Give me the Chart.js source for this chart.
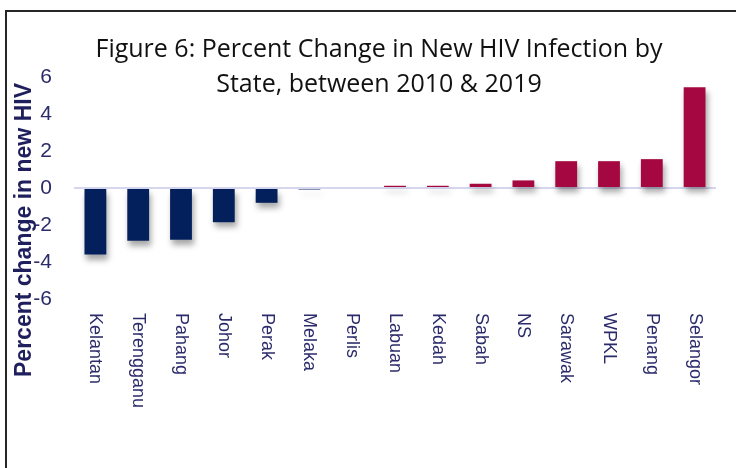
<!DOCTYPE html>
<html>
<head>
<meta charset="utf-8">
<script src="https://cdn.jsdelivr.net/npm/chart.js@4"></script>
<style>
  html, body { margin: 0; padding: 0; background: #fff; }
  #wrap { position: relative; width: 736px; height: 468px; overflow: hidden; }
  #frame { position: absolute; left: 5px; top: 10px; width: 760px; height: 480px;
           border-left: 2px solid #262626; border-top: 2px solid #262626; }
  #title { position: absolute; left: 0; width: 758px; top: 30px; text-align: center;
           font-family: 'Open Sans', Lato, sans-serif; font-size: 25px;
           line-height: 35px; color: #111; }
  canvas { position: absolute; left: 0; top: 0; }
</style>
</head>
<body>
<div id="wrap">
  <div id="frame"></div>
  <canvas id="chart" width="736" height="468"></canvas>
  <div id="title">Figure 6: Percent Change in New HIV Infection by<br>State, between 2010 &amp; 2019</div>
</div>
<script>
// chart data
const states = ['Kelantan', 'Terengganu', 'Pahang', 'Johor', 'Perak', 'Melaka', 'Perlis',
                'Labuan', 'Kedah', 'Sabah', 'NS', 'Sarawak', 'WPKL', 'Penang', 'Selangor'];
const pctChange = [-3.6, -2.85, -2.8, -1.85, -0.8, -0.08, 0,
                   0.12, 0.12, 0.23, 0.41, 1.45, 1.45, 1.56, 5.45];
const yAxisTitle = 'Percent change in new HIV';

const NAVY = '#03205c';
const CRIMSON = '#a50840';
const TEXT = '#2b2b6b';

// drop shadow under the bars
const shadowPlugin = {
  id: 'barShadow',
  beforeDatasetsDraw(chart) {
    const c = chart.ctx;
    c.save();
    c.shadowColor = 'rgba(0, 0, 0, 0.35)';
    c.shadowBlur = 6;
    c.shadowOffsetX = 2;
    c.shadowOffsetY = 5;
  },
  afterDatasetsDraw(chart) {
    chart.ctx.restore();
  }
};

// x labels read top-to-bottom, plus the y axis title
const labelPlugin = {
  id: 'customLabels',
  afterDraw(chart) {
    const c = chart.ctx;
    const xScale = chart.scales.x;
    c.save();
    c.fillStyle = TEXT;
    c.font = '18px "Liberation Sans", Arial, sans-serif';
    c.textAlign = 'left';
    c.textBaseline = 'middle';
    states.forEach((s, i) => {
      const x = xScale.getPixelForTick(i);
      c.save();
      c.translate(x, 313);
      c.rotate(Math.PI / 2);
      c.fillText(s, 0, 0);
      c.restore();
    });
    c.fillStyle = '#1f1f5e';
    c.font = 'bold 23px "Liberation Sans", Arial, sans-serif';
    c.textAlign = 'center';
    c.translate(25, 230);
    c.rotate(-Math.PI / 2);
    c.fillText(yAxisTitle, 0, 0);
    c.restore();
  }
};

const ctx = document.getElementById('chart').getContext('2d');
new Chart(ctx, {
  type: 'bar',
  data: {
    labels: states,
    datasets: [{
      data: pctChange,
      backgroundColor: pctChange.map(v => v < 0 ? NAVY : CRIMSON),
      categoryPercentage: 1,
      barPercentage: 0.51,
      borderWidth: 0
    }]
  },
  options: {
    responsive: false,
    animation: false,
    layout: { padding: { left: 0, right: 20, top: 77, bottom: 0 } },
    plugins: {
      legend: { display: false },
      tooltip: { enabled: false }
    },
    scales: {
      x: {
        grid: { display: false },
        border: { display: false },
        ticks: { display: false },
        afterFit: (scale) => { scale.height = 169; }
      },
      y: {
        min: -6,
        max: 6,
        ticks: {
          stepSize: 2,
          padding: 22,
          color: TEXT,
          font: { family: '"Liberation Sans", Arial, sans-serif', size: 21 }
        },
        grid: {
          drawTicks: false,
          color: (c) => c.tick && c.tick.value === 0 ? '#d6d6ef' : 'rgba(0,0,0,0)',
          lineWidth: 2
        },
        border: { display: false },
        afterFit: (scale) => { scale.width = 74; }
      }
    }
  },
  plugins: [shadowPlugin, labelPlugin]
});
</script>
</body>
</html>
